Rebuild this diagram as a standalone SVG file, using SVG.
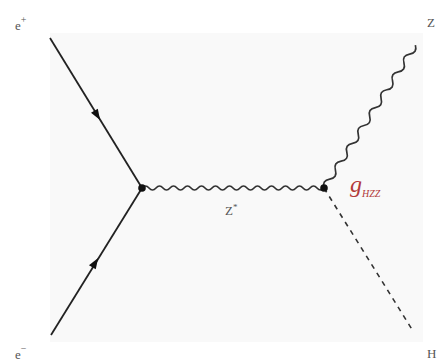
<svg xmlns="http://www.w3.org/2000/svg" width="443" height="361" viewBox="0 0 443 361">
<style>
.lbl{font-family:"Liberation Serif",serif;fill:#555;font-size:13px}
.fer{stroke:#222;stroke-width:1.8;fill:none}
.bos{stroke:#333;stroke-width:1.7;fill:none}
.arr{fill:#111}
.vtx{fill:#111}
</style>
<rect x="0" y="0" width="443" height="361" fill="#ffffff"/>
<rect x="50" y="33" width="373" height="309" fill="#f9f9f9"/>
<g id="connectors">
<line class="fer" x1="50" y1="38" x2="142" y2="188"/>
<polygon class="arr" transform="translate(97,115) rotate(58.5)" points="6,0 -5,-4 -5,4"/>
<line class="fer" x1="51" y1="335" x2="142" y2="188"/>
<polygon class="arr" transform="translate(95,263) rotate(-58.2)" points="6,0 -5,-4 -5,4"/>
<path class="bos" d="M142,188 q3.5,-4 7,0 t7,0 t7,0 t7,0 t7,0 t7,0 t7,0 t7,0 t7,0 t7,0 t7,0 t7,0 t7,0 t7,0 t7,0 t7,0 t7,0 t7,0 t7,0 t7,0 t7,0 t7,0 t7,0 t7,0 t7,0 t7,0"/>
<path class="bos" transform="translate(324,188) rotate(-57.4)" d="M0,0 q5.3,-6 10.6,0 t10.6,0 t10.6,0 t10.6,0 t10.6,0 t10.6,0 t10.6,0 t10.6,0 t10.6,0 t10.6,0 t10.6,0 t10.6,0 t10.6,0 t10.6,0 t10.6,0 t10.6,0"/>
<line class="fer" x1="324" y1="188" x2="413" y2="331" stroke-dasharray="5,5" style="stroke:#333;stroke-width:1.6"/>
</g>
<g id="v1"><circle class="vtx" cx="142" cy="188" r="3.8"/></g>
<g id="v2"><circle class="vtx" cx="324" cy="188" r="3.8"/></g>
<g id="ep"><text class="lbl" x="15" y="30">e<tspan dy="-7" font-size="10">+</tspan></text></g>
<g id="em"><text class="lbl" x="15" y="359">e<tspan dy="-7" font-size="10">−</tspan></text></g>
<g id="zstar"><text class="lbl" x="225" y="215">Z<tspan dy="-5" font-size="9">*</tspan></text></g>
<g id="z"><text class="lbl" x="427" y="27">Z</text></g>
<g id="h"><text class="lbl" x="427" y="358">H</text></g>
<g id="ghzz"><text x="350" y="192" font-family="Liberation Serif,serif" font-style="italic" font-size="24" fill="#b23a3a">g<tspan dy="5" font-size="10">HZZ</tspan></text></g>
</svg>
